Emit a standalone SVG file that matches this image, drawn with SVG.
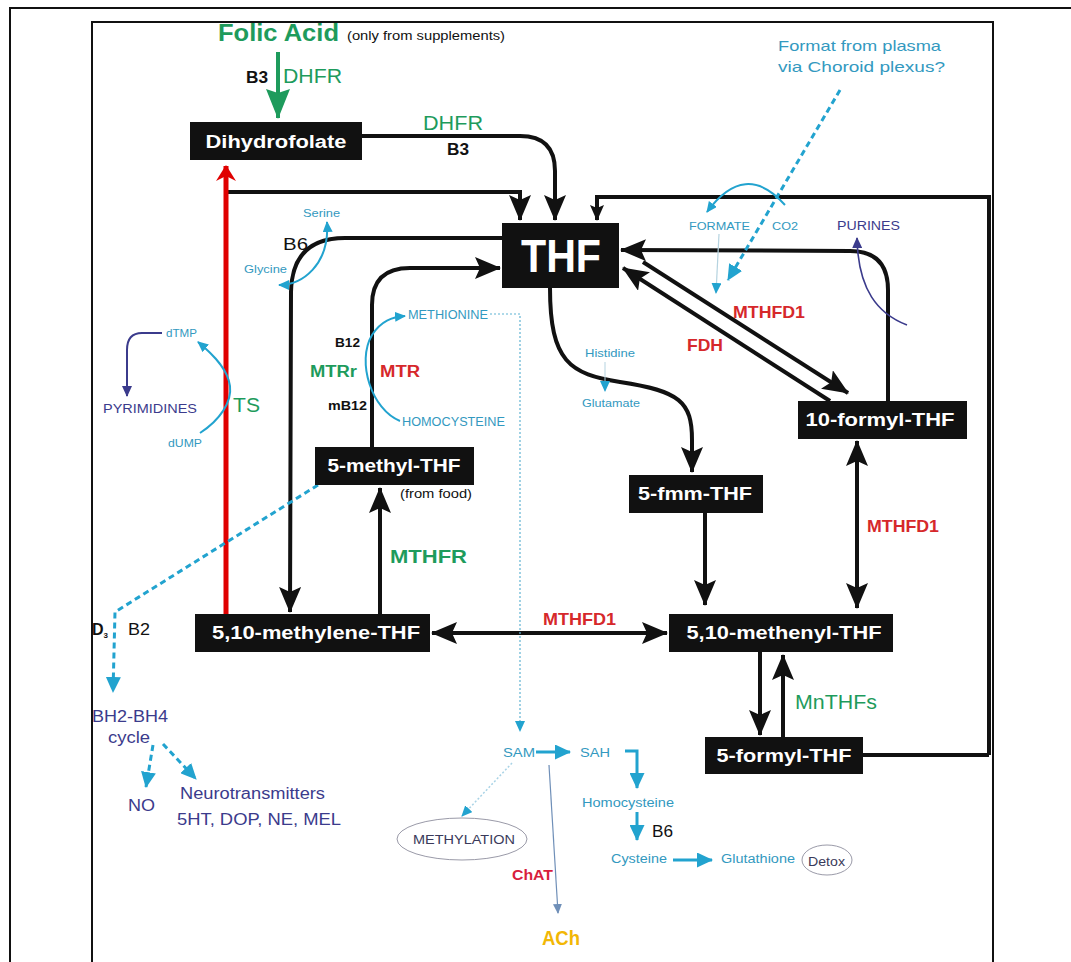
<svg xmlns="http://www.w3.org/2000/svg" width="1071" height="962" viewBox="0 0 1071 962">
<style>
text{font-family:"Liberation Sans",Arial,sans-serif}
.node rect{fill:#111}
.node text{fill:#fff;font-weight:bold;font-size:18px;text-anchor:middle}
.blk{fill:none;stroke:#111;stroke-width:4}
.cy{fill:none;stroke:#22a3cf;stroke-width:2}
.cyt{fill:#3399c0}
.db{fill:#3b3b8c}
.gr{fill:#1e9b5c}
.rd{fill:#d6282b;font-weight:bold}
.bk{fill:#111}
.b{font-weight:bold}
</style>
<defs>
<marker id="ab" markerUnits="userSpaceOnUse" markerWidth="26" markerHeight="22" refX="25" refY="11" orient="auto-start-reverse"><path d="M0,0 L26,11 L0,22 L5,11 z" fill="#111"/></marker>
<marker id="abs" markerUnits="userSpaceOnUse" markerWidth="16" markerHeight="14" refX="15" refY="7" orient="auto"><path d="M0,0 L16,7 L0,14 L3,7 z" fill="#111"/></marker>
<marker id="ar" markerUnits="userSpaceOnUse" markerWidth="16" markerHeight="20" refX="15" refY="10" orient="auto"><path d="M0,0 L16,10 L0,20 L5,10 z" fill="#e00000"/></marker>
<marker id="ag" markerUnits="userSpaceOnUse" markerWidth="30" markerHeight="24" refX="29" refY="12" orient="auto"><path d="M0,0 L30,12 L0,24 L4,12 z" fill="#1e9b5c"/></marker>
<marker id="ac" markerUnits="userSpaceOnUse" markerWidth="11" markerHeight="10" refX="10" refY="5" orient="auto-start-reverse"><path d="M0,0 L11,5 L0,10 z" fill="#22a3cf"/></marker>
<marker id="acb" markerUnits="userSpaceOnUse" markerWidth="16" markerHeight="15" refX="15" refY="7.5" orient="auto"><path d="M0,0 L16,7.5 L0,15 z" fill="#22a3cf"/></marker>
<marker id="adb" markerUnits="userSpaceOnUse" markerWidth="11" markerHeight="10" refX="10" refY="5" orient="auto"><path d="M0,0 L11,5 L0,10 z" fill="#3b3b8c"/></marker>
<marker id="ags" markerUnits="userSpaceOnUse" markerWidth="10" markerHeight="9" refX="9" refY="4.5" orient="auto"><path d="M0,0 L10,4.5 L0,9 z" fill="#6f8fb8"/></marker>
</defs>
<rect width="1071" height="962" fill="#fff"/>
<g id="frame" fill="none" stroke="#111" stroke-width="2">
<path d="M10,962 L10,8 L1071,8"/>
<path d="M92,962 L92,22 L993,22 L993,962"/>
</g>
<g id="connectors">
<path class="blk" d="M989,755 L989,197 L597,197 L597,220" marker-end="url(#abs)"/>
<path class="blk" d="M863,755 L989,755"/>
<line x1="278" y1="52" x2="278" y2="118" stroke="#1e9b5c" stroke-width="4" marker-end="url(#ag)"/>
<path class="blk" d="M362,136 L520,136 Q555,136 555,171 L555,220" marker-end="url(#ab)"/>
<path class="blk" d="M228,192 L520,192 L520,220" marker-end="url(#ab)"/>
<line x1="226" y1="614" x2="226" y2="166" stroke="#e00000" stroke-width="5" marker-end="url(#ar)"/>
<path class="blk" d="M502,238 L345,238 Q292,238 291,292 L290,612" marker-end="url(#ab)"/>
<path class="blk" d="M372,447 L372,305 Q372,268 410,268 L500,268" marker-end="url(#ab)"/>
<path class="blk" d="M550,288 C550,362 570,374 620,382 C680,391 692,402 692,440 L692,472" marker-end="url(#ab)"/>
<path class="blk" d="M888,401 L888,290 Q888,251 850,251 L621,250" marker-end="url(#ab)"/>
<path class="blk" d="M643,262 L848,393" marker-end="url(#ab)"/>
<path class="blk" d="M830,401 L623,268" marker-end="url(#ab)"/>
<path class="blk" d="M380,614 L380,488" marker-end="url(#ab)"/>
<path class="blk" d="M705,513 L705,605" marker-end="url(#ab)"/>
<path class="blk" d="M857,441 L857,608" marker-start="url(#ab)" marker-end="url(#ab)"/>
<path class="blk" d="M432,633 L667,633" marker-start="url(#ab)" marker-end="url(#ab)"/>
<path class="blk" d="M760,652 L760,735" marker-end="url(#ab)"/>
<path class="blk" d="M783,737 L783,655" marker-end="url(#ab)"/>
<!-- cyan side reactions -->
<path class="cy" d="M279,285 C302,285 330,265 327,222" marker-start="url(#ac)" marker-end="url(#ac)"/>
<path class="cy" d="M400,421 C372,410 356,362 372,335 C381,321 392,317 405,316" marker-end="url(#ac)"/>
<path class="cy" d="M200,433 C220,420 232,402 230,386 C228,370 215,356 198,342" marker-end="url(#ac)"/>
<path d="M162,333 L142,333 Q127,333 127,350 L127,396" fill="none" stroke="#3b3b8c" stroke-width="2" marker-end="url(#adb)"/>
<path class="cy" d="M785,205 Q745,160 707,212" marker-end="url(#ac)"/>
<path d="M907,325 C878,314 858,290 857,238" fill="none" stroke="#3b3b8c" stroke-width="1.6" marker-end="url(#adb)"/>
<path d="M840,90 L728,280" fill="none" stroke="#22a3cf" stroke-width="3" stroke-dasharray="6,4" marker-end="url(#acb)"/>
<path d="M318,485 L115,612 L113,692" fill="none" stroke="#22a3cf" stroke-width="3" stroke-dasharray="6,4" marker-end="url(#acb)"/>
<path d="M153,745 L146,787" fill="none" stroke="#22a3cf" stroke-width="3" stroke-dasharray="6,4" marker-end="url(#acb)"/>
<path d="M163,744 L196,779" fill="none" stroke="#22a3cf" stroke-width="3" stroke-dasharray="6,4" marker-end="url(#acb)"/>
<path d="M490,314 L520,314 L520,731" fill="none" stroke="#5fb3d3" stroke-width="1.2" stroke-dasharray="2,2" marker-end="url(#ac)"/>
<path d="M719,234 L716,293" fill="none" stroke="#b5d3e0" stroke-width="1.2" marker-end="url(#ac)"/>
<path d="M605,362 L605,391" fill="none" stroke="#b5d3e0" stroke-width="1" marker-end="url(#ac)"/>
<path d="M536,752 L570,752" fill="none" stroke="#22a3cf" stroke-width="3" marker-end="url(#acb)"/>
<path d="M625,751 L637,751 L637,788" fill="none" stroke="#22a3cf" stroke-width="3" marker-end="url(#acb)"/>
<path d="M637,812 L637,840" fill="none" stroke="#22a3cf" stroke-width="3" marker-end="url(#acb)"/>
<path d="M673,860 L712,860" fill="none" stroke="#22a3cf" stroke-width="3" marker-end="url(#acb)"/>
<path d="M512,763 L462,816" fill="none" stroke="#a9d3e6" stroke-width="1.5" stroke-dasharray="2,2" marker-end="url(#ac)"/>
<path d="M549,765 L558,913" fill="none" stroke="#6f8fb8" stroke-width="1.2" marker-end="url(#ags)"/>
</g>
<g id="n-dihydrofolate" class="node"><rect x="190" y="122" width="172" height="38"/><text x="276" y="148" textLength="141" lengthAdjust="spacingAndGlyphs">Dihydrofolate</text></g>
<g id="n-thf" class="node"><rect x="502" y="223" width="117" height="65"/><text x="561" y="272" style="font-size:46px" textLength="80" lengthAdjust="spacingAndGlyphs">THF</text></g>
<g id="n-methylene" class="node"><rect x="195" y="614" width="235" height="38"/><text x="316" y="639" textLength="208" lengthAdjust="spacingAndGlyphs">5,10-methylene-THF</text></g>
<g id="n-methyl" class="node"><rect x="315" y="447" width="159" height="38"/><text x="394" y="472" textLength="133" lengthAdjust="spacingAndGlyphs">5-methyl-THF</text></g>
<g id="n-fmm" class="node"><rect x="629" y="475" width="134" height="38"/><text x="695" y="500" textLength="114" lengthAdjust="spacingAndGlyphs">5-fmm-THF</text></g>
<g id="n-methenyl" class="node"><rect x="669" y="614" width="224" height="38"/><text x="784" y="639" textLength="195" lengthAdjust="spacingAndGlyphs">5,10-methenyl-THF</text></g>
<g id="n-formyl10" class="node"><rect x="798" y="401" width="169" height="38"/><text x="880" y="426" textLength="149" lengthAdjust="spacingAndGlyphs">10-formyl-THF</text></g>
<g id="n-formyl5" class="node"><rect x="705" y="737" width="158" height="37"/><text x="784" y="762" textLength="135" lengthAdjust="spacingAndGlyphs">5-formyl-THF</text></g>
<g id="n-methylation"><ellipse cx="462" cy="839" rx="65" ry="21" fill="none" stroke="#9a9aa8" stroke-width="1"/><text x="413" y="844" font-size="13" fill="#3a3a5a" textLength="102" lengthAdjust="spacingAndGlyphs">METHYLATION</text></g>
<g id="n-detox"><ellipse cx="827" cy="860" rx="25" ry="15" fill="none" stroke="#9a9aa8" stroke-width="1"/><text x="808" y="866" font-size="12" fill="#3a3a5a" textLength="37" lengthAdjust="spacingAndGlyphs">Detox</text></g>
<g id="labels">
<text x="218" y="41" font-size="24" class="gr b" textLength="121" lengthAdjust="spacingAndGlyphs">Folic Acid</text>
<text x="347" y="40" font-size="12" class="bk" textLength="158" lengthAdjust="spacingAndGlyphs">(only from supplements)</text>
<text x="246" y="83" font-size="16" class="bk b" textLength="22" lengthAdjust="spacingAndGlyphs">B3</text>
<text x="283" y="83" font-size="21" class="gr" textLength="59" lengthAdjust="spacingAndGlyphs">DHFR</text>
<text x="423" y="130" font-size="21" class="gr" textLength="60" lengthAdjust="spacingAndGlyphs">DHFR</text>
<text x="447" y="155" font-size="16" class="bk b" textLength="22" lengthAdjust="spacingAndGlyphs">B3</text>
<text x="778" y="51" font-size="15" class="cyt" textLength="163" lengthAdjust="spacingAndGlyphs">Format from plasma</text>
<text x="778" y="72" font-size="15" class="cyt" textLength="167" lengthAdjust="spacingAndGlyphs">via Choroid plexus?</text>
<text x="303" y="217" font-size="11" class="cyt" textLength="37" lengthAdjust="spacingAndGlyphs">Serine</text>
<text x="244" y="273" font-size="11" class="cyt" textLength="43" lengthAdjust="spacingAndGlyphs">Glycine</text>
<text x="283" y="250" font-size="16" class="bk" textLength="25" lengthAdjust="spacingAndGlyphs">B6</text>
<text x="689" y="230" font-size="11" class="cyt" textLength="61" lengthAdjust="spacingAndGlyphs">FORMATE</text>
<text x="772" y="230" font-size="11" class="cyt" textLength="26" lengthAdjust="spacingAndGlyphs">CO2</text>
<text x="837" y="230" font-size="12" class="db" textLength="63" lengthAdjust="spacingAndGlyphs">PURINES</text>
<text x="408" y="319" font-size="12" class="cyt" textLength="80" lengthAdjust="spacingAndGlyphs">METHIONINE</text>
<text x="402" y="426" font-size="12" class="cyt" textLength="103" lengthAdjust="spacingAndGlyphs">HOMOCYSTEINE</text>
<text x="335" y="347" font-size="12" class="bk b" textLength="25" lengthAdjust="spacingAndGlyphs">B12</text>
<text x="310" y="377" font-size="16" class="gr b" textLength="47" lengthAdjust="spacingAndGlyphs">MTRr</text>
<text x="380" y="377" font-size="16" class="rd" textLength="40" lengthAdjust="spacingAndGlyphs">MTR</text>
<text x="328" y="410" font-size="12" class="bk b" textLength="39" lengthAdjust="spacingAndGlyphs">mB12</text>
<text x="166" y="337" font-size="11" class="cyt" textLength="31" lengthAdjust="spacingAndGlyphs">dTMP</text>
<text x="103" y="413" font-size="13" class="db" textLength="94" lengthAdjust="spacingAndGlyphs">PYRIMIDINES</text>
<text x="168" y="447" font-size="11" class="cyt" textLength="34" lengthAdjust="spacingAndGlyphs">dUMP</text>
<text x="233" y="412" font-size="21" class="gr" textLength="27" lengthAdjust="spacingAndGlyphs">TS</text>
<text x="733" y="318" font-size="17" class="rd" textLength="72" lengthAdjust="spacingAndGlyphs">MTHFD1</text>
<text x="687" y="351" font-size="17" class="rd" textLength="36" lengthAdjust="spacingAndGlyphs">FDH</text>
<text x="585" y="357" font-size="11" class="cyt" textLength="50" lengthAdjust="spacingAndGlyphs">Histidine</text>
<text x="582" y="407" font-size="11" class="cyt" textLength="58" lengthAdjust="spacingAndGlyphs">Glutamate</text>
<text x="400" y="498" font-size="12" class="bk" textLength="72" lengthAdjust="spacingAndGlyphs">(from food)</text>
<text x="390" y="563" font-size="18" class="gr b" textLength="77" lengthAdjust="spacingAndGlyphs">MTHFR</text>
<text x="867" y="532" font-size="17" class="rd" textLength="72" lengthAdjust="spacingAndGlyphs">MTHFD1</text>
<text x="543" y="625" font-size="17" class="rd" textLength="73" lengthAdjust="spacingAndGlyphs">MTHFD1</text>
<text x="92" y="635" font-size="16" class="bk b">D<tspan font-size="8" dy="3">3</tspan></text>
<text x="128" y="635" font-size="16" class="bk" textLength="22" lengthAdjust="spacingAndGlyphs">B2</text>
<text x="795" y="709" font-size="20" class="gr" textLength="82" lengthAdjust="spacingAndGlyphs">MnTHFs</text>
<text x="92" y="722" font-size="17" class="db" textLength="76" lengthAdjust="spacingAndGlyphs">BH2-BH4</text>
<text x="108" y="743" font-size="16" class="db" textLength="42" lengthAdjust="spacingAndGlyphs">cycle</text>
<text x="128" y="811" font-size="16" class="db" textLength="27" lengthAdjust="spacingAndGlyphs">NO</text>
<text x="180" y="799" font-size="16" class="db" textLength="145" lengthAdjust="spacingAndGlyphs">Neurotransmitters</text>
<text x="177" y="825" font-size="16" class="db" textLength="164" lengthAdjust="spacingAndGlyphs">5HT, DOP, NE, MEL</text>
<text x="503" y="757" font-size="12" class="cyt" textLength="32" lengthAdjust="spacingAndGlyphs">SAM</text>
<text x="580" y="757" font-size="12" class="cyt" textLength="30" lengthAdjust="spacingAndGlyphs">SAH</text>
<text x="582" y="807" font-size="12" class="cyt" textLength="92" lengthAdjust="spacingAndGlyphs">Homocysteine</text>
<text x="652" y="837" font-size="17" class="bk" textLength="21" lengthAdjust="spacingAndGlyphs">B6</text>
<text x="611" y="863" font-size="12" class="cyt" textLength="56" lengthAdjust="spacingAndGlyphs">Cysteine</text>
<text x="721" y="863" font-size="12" class="cyt" textLength="74" lengthAdjust="spacingAndGlyphs">Glutathione</text>
<text x="512" y="880" font-size="15" fill="#d81e3c" class="b" textLength="41" lengthAdjust="spacingAndGlyphs">ChAT</text>
<text x="542" y="945" font-size="20" fill="#f2b705" class="b" textLength="38" lengthAdjust="spacingAndGlyphs">ACh</text>
</g>
</svg>
